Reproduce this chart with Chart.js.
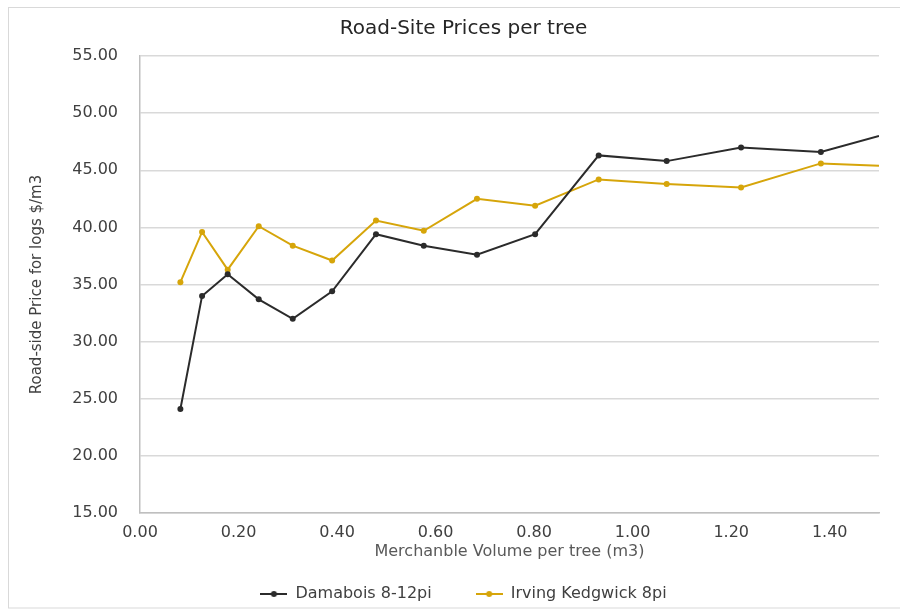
<!DOCTYPE html>
<html>
<head>
<meta charset="utf-8">
<script src="https://cdn.jsdelivr.net/npm/chart.js@4/dist/chart.umd.min.js"></script>
<style>
  html, body { margin: 0; padding: 0; background: #ffffff; }
  #wrap { position: relative; width: 900px; height: 612px; }
</style>
</head>
<body>
<div id="wrap"><canvas id="chart" width="900" height="612"></canvas></div>
<script>
// Merchantable volume per tree (m3) for each sampled stand
const volumes = [0.082, 0.126, 0.178, 0.241, 0.310, 0.390, 0.479, 0.576, 0.684, 0.802, 0.931, 1.069, 1.220, 1.382, 1.500];
// Road-side price for logs ($/m3)
const damabois = [24.1, 34.0, 35.9, 33.7, 32.0, 34.4, 39.4, 38.4, 37.6, 39.4, 46.3, 45.8, 47.0, 46.6, 48.0];
const irving   = [35.2, 39.6, 36.3, 40.1, 38.4, 37.1, 40.6, 39.7, 42.5, 41.9, 44.2, 43.8, 43.5, 45.6, 45.4];
const seriesNames = ['Damabois 8-12pi', 'Irving Kedgwick 8pi'];
const xTickValues = [0, 0.2, 0.4, 0.6, 0.8, 1.0, 1.2, 1.4];

const BLACK = '#2b2b2b';
const GOLD = '#d6a50a';
const FONT = "'DejaVu Sans', sans-serif";

// legend swatch: short line with a dot in the middle
function swatch(color) {
  const c = document.createElement('canvas');
  c.width = 27; c.height = 10;
  const g = c.getContext('2d');
  g.strokeStyle = color; g.lineWidth = 2;
  g.beginPath(); g.moveTo(0, 5); g.lineTo(27, 5); g.stroke();
  g.fillStyle = color;
  g.beginPath(); g.arc(13.5, 5, 3, 0, Math.PI * 2); g.fill();
  return c;
}

function pts(ys) { return volumes.map((x, i) => ({ x: x, y: ys[i] })); }
const radii = volumes.map((_, i) => (i === volumes.length - 1 ? 0 : 3));

// outer light frame around the chart
const framePlugin = {
  id: 'frame',
  beforeDraw(chart) {
    const ctx = chart.ctx;
    ctx.save();
    ctx.strokeStyle = '#d9d9d9';
    ctx.lineWidth = 1;
    ctx.strokeRect(8.5, 7.5, 900, 600.5);
    ctx.restore();
  }
};

new Chart(document.getElementById('chart'), {
  type: 'line',
  data: {
    datasets: [
      {
        label: seriesNames[0],
        data: pts(damabois),
        borderColor: BLACK,
        backgroundColor: BLACK,
        borderWidth: 2,
        pointRadius: radii,
        pointBorderWidth: 0,
        pointStyle: 'circle',
        tension: 0
      },
      {
        label: seriesNames[1],
        data: pts(irving),
        borderColor: GOLD,
        backgroundColor: GOLD,
        borderWidth: 2,
        pointRadius: radii,
        pointBorderWidth: 0,
        pointStyle: 'circle',
        tension: 0
      }
    ]
  },
  options: {
    responsive: false,
    animation: false,
    devicePixelRatio: 1,
    layout: { padding: { left: 48, right: 21, top: 0, bottom: 0 } },
    plugins: {
      title: {
        display: true,
        text: 'Road-Site Prices per tree',
        color: '#262626',
        font: { family: FONT, size: 20, weight: 'normal' },
        padding: { top: 17, bottom: 15 }
      },
      legend: {
        position: 'bottom',
        labels: {
          usePointStyle: true,
          pointStyleWidth: 27,
          padding: 44,
          color: '#404040',
          font: { family: FONT, size: 16 },
          generateLabels(chart) {
            return chart.data.datasets.map((ds, i) => ({
              text: ds.label,
              pointStyle: swatch(ds.borderColor),
              fillStyle: ds.borderColor,
              strokeStyle: ds.borderColor,
              lineWidth: 0,
              hidden: false,
              datasetIndex: i,
              fontColor: '#404040'
            }));
          }
        }
      },
      tooltip: { enabled: false }
    },
    scales: {
      x: {
        type: 'linear',
        min: 0,
        max: 1.5,
        afterBuildTicks(scale) { scale.ticks = xTickValues.map(v => ({ value: v })); },
        afterFit(scale) { scale.height = 29; },
        grid: { display: false, drawTicks: false },
        border: { display: true, color: '#bfbfbf', width: 1.5 },
        ticks: {
          padding: 10,
          color: '#404040',
          font: { family: FONT, size: 16 },
          callback: v => Number(v).toFixed(2)
        },
        title: {
          display: true,
          text: 'Merchanble Volume per tree (m3)',
          color: '#595959',
          font: { family: FONT, size: 16 },
          padding: { top: 0, bottom: -19.6 }
        }
      },
      y: {
        min: 15,
        max: 55,
        afterFit(scale) { scale.width = 92; },
        grid: { color: '#d9d9d9', lineWidth: 1.5, drawTicks: false },
        border: { display: true, color: '#bfbfbf', width: 1.5 },
        ticks: {
          stepSize: 5,
          padding: 22,
          color: '#404040',
          font: { family: FONT, size: 16 },
          callback: v => Number(v).toFixed(2)
        },
        title: {
          display: true,
          text: 'Road-side Price for logs $/m3',
          color: '#404040',
          font: { family: FONT, size: 15 },
          padding: { top: -20, bottom: 0 }
        }
      }
    }
  },
  plugins: [framePlugin]
});
</script>
</body>
</html>
